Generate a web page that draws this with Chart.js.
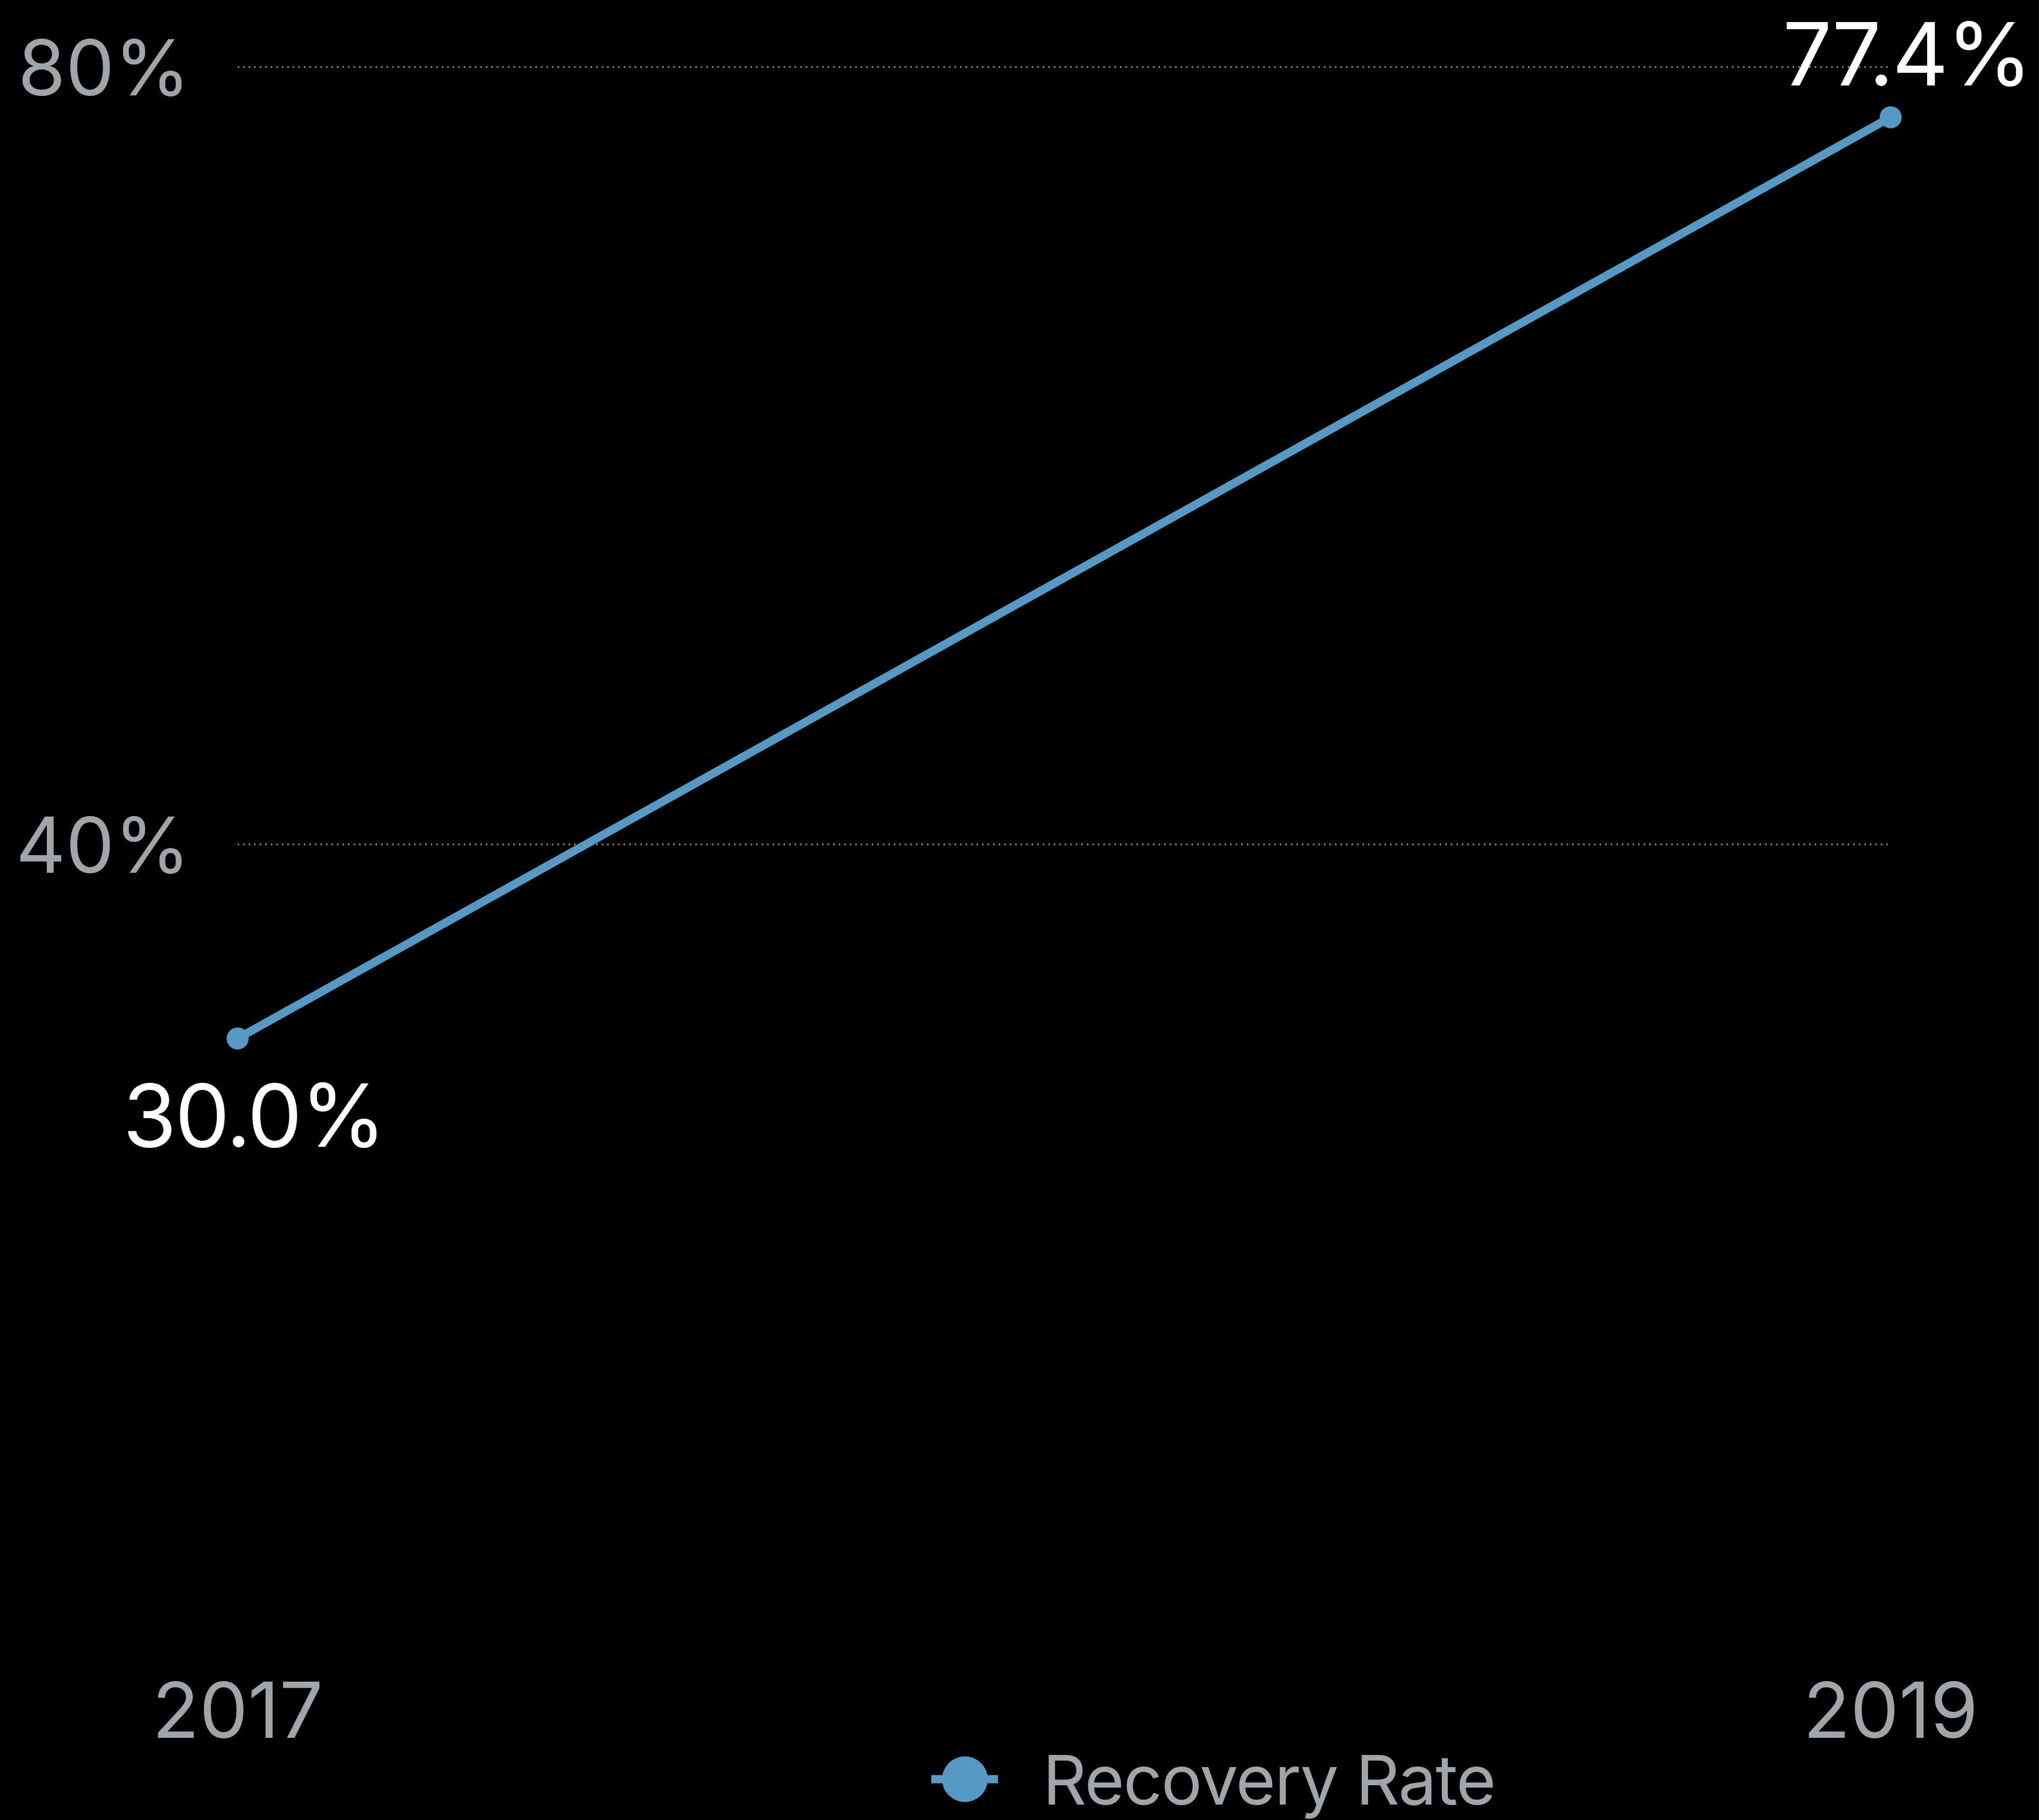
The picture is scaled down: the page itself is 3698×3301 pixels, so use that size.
<!DOCTYPE html>
<html>
<head>
<meta charset="utf-8">
<title>Recovery Rate</title>
<script src="https://cdn.jsdelivr.net/npm/chart.js@4.4.1/dist/chart.umd.min.js"></script>
<style>
  html, body { margin: 0; padding: 0; background: #000; }
  canvas { display: block; }
</style>
</head>
<body>
<canvas id="rateChart" width="3698" height="3301"></canvas>
<script>
const years = ['2017', '2019'];
const recoveryRate = [30.0, 77.4];
const yTicks = [0, 40, 80];
const seriesName = 'Recovery Rate';

const lineBlue = '#5699c4';
const tickGray = '#a0a5aa';
const gridGray = 'rgba(150, 155, 160, 0.85)';
const fontFamily = 'Inter, "Noto Sans", sans-serif';

// value text above/below each point
const valueLabels = {
    id: 'valueLabels',
    afterDatasetsDraw(chart) {
        const ctx = chart.ctx;
        const meta = chart.getDatasetMeta(0);
        const values = chart.data.datasets[0].data;
        const lowest = Math.min(...values);
        ctx.save();
        ctx.font = `158px ${fontFamily}`;
        ctx.letterSpacing = '-3px';
        ctx.fillStyle = '#ffffff';
        ctx.textAlign = 'center';
        ctx.textBaseline = 'alphabetic';
        meta.data.forEach((pt, i) => {
            const v = values[i];
            const y = v === lowest ? pt.y + 196 : pt.y - 58;
            ctx.fillText(v.toFixed(1) + '%', pt.x + 29, y);
        });
        ctx.restore();
    }
};

// legend: short line with a dot, then the series name
const lineLegend = {
    id: 'lineLegend',
    afterDraw(chart) {
        const ctx = chart.ctx;
        const ds = chart.data.datasets[0];
        const cy = 3227;
        ctx.save();
        ctx.strokeStyle = ds.borderColor;
        ctx.lineWidth = 15;
        ctx.beginPath();
        ctx.moveTo(1689, cy);
        ctx.lineTo(1810, cy);
        ctx.stroke();
        ctx.fillStyle = ds.borderColor;
        ctx.beginPath();
        ctx.arc(1750, cy, 41.5, 0, Math.PI * 2);
        ctx.fill();
        ctx.font = `124px ${fontFamily}`;
        ctx.letterSpacing = '-2px';
        ctx.fillStyle = tickGray;
        ctx.textAlign = 'left';
        ctx.textBaseline = 'alphabetic';
        ctx.fillText(ds.label, 1891, 3273);
        ctx.restore();
    }
};

function initRateChart() {
    const ctx = document.getElementById('rateChart').getContext('2d');
    new Chart(ctx, {
        type: 'line',
        data: {
            labels: years,
            datasets: [{
                label: seriesName,
                data: recoveryRate,
                borderColor: lineBlue,
                backgroundColor: lineBlue,
                borderWidth: 15,
                pointRadius: 20,
                pointHoverRadius: 20,
                pointBackgroundColor: lineBlue,
                pointBorderWidth: 0,
                tension: 0,
                clip: false
            }]
        },
        options: {
            responsive: false,
            devicePixelRatio: 1,
            animation: false,
            events: [],
            layout: {
                padding: { top: 121, right: 269, bottom: 144, left: 0 }
            },
            scales: {
                x: {
                    offset: false,
                    afterFit(scale) {
                        scale.height = 216;
                        scale.paddingLeft = 0;
                        scale.paddingRight = 0;
                    },
                    grid: { display: false },
                    border: { display: false },
                    ticks: {
                        padding: 77,
                        color: tickGray,
                        font: { family: fontFamily, size: 140 },
                        maxRotation: 0,
                        autoSkip: false
                    }
                },
                y: {
                    min: 0,
                    max: 80,
                    afterFit(scale) {
                        scale.width = 431;
                        scale.paddingTop = 0;
                        scale.paddingBottom = 0;
                    },
                    afterBuildTicks(scale) { scale.ticks = yTicks.map(value => ({ value })); },
                    border: { display: false, dash: [3, 7] },
                    grid: {
                        drawTicks: false,
                        lineWidth: 3,
                        color: c => (c.tick && c.tick.value === 0) ? 'rgba(0,0,0,0)' : gridGray
                    },
                    ticks: {
                        padding: 86,
                        labelOffset: 10,
                        color: tickGray,
                        font: { family: fontFamily, size: 140 },
                        callback: v => v === 0 ? '' : v + '%'
                    }
                }
            },
            plugins: {
                legend: { display: false },
                tooltip: { enabled: false }
            }
        },
        plugins: [valueLabels, lineLegend]
    });
}

initRateChart();
</script>
</body>
</html>
